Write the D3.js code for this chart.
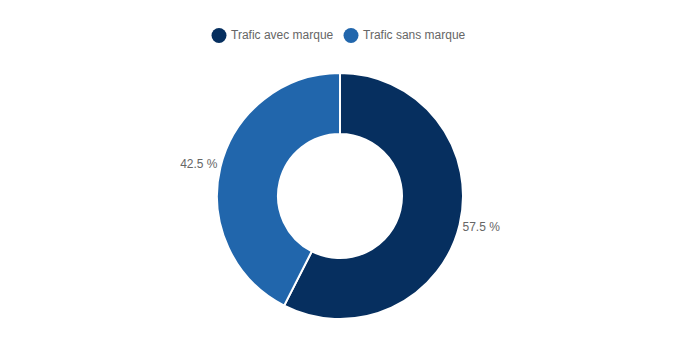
<!DOCTYPE html>
<html><head><meta charset="utf-8">
<script src="https://cdn.jsdelivr.net/npm/d3@7"></script>
<style>body{margin:0;background:#fff;}svg{display:block;font-family:"Liberation Sans",Arial,sans-serif;}</style>
</head><body>
<svg id="c" width="680" height="340"></svg>
<script>
const categories = ["Trafic avec marque", "Trafic sans marque"];
const values = [57.5, 42.5];
const valueLabels = ["57.5 %", "42.5 %"];
const colors = ["#062f5f", "#2166ac"];

const svg = d3.select("#c");
const cx = 340, cy = 196, outerR = 123, innerR = 62, labelR = 126;

const color = d3.scaleOrdinal().domain(categories).range(colors);
const pie = d3.pie().sort(null).value((d, i) => values[i]);
const arcs = pie(categories);
const arc = d3.arc().innerRadius(innerR).outerRadius(outerR);

const g = svg.append("g").attr("transform", `translate(${cx},${cy})`);
g.selectAll("path").data(arcs).join("path")
  .attr("d", arc)
  .attr("fill", d => color(d.data))
  .attr("stroke", "#fff")
  .attr("stroke-width", 2)
  .attr("stroke-linejoin", "round");

g.selectAll("text.lbl").data(arcs).join("text")
  .attr("class", "lbl")
  .each(function(d, i) {
    const a = (d.startAngle + d.endAngle) / 2;
    const x = Math.sin(a) * labelR, y = -Math.cos(a) * labelR;
    d3.select(this).attr("x", x).attr("y", y + (y < 0 ? -3 : 1))
      .attr("text-anchor", x >= 0 ? "start" : "end");
  })
  .attr("dy", "0.35em")
  .attr("font-size", 12)
  .attr("fill", "#666")
  .text((d, i) => valueLabels[i]);

// Legend
const legend = svg.append("g");
const items = [{x: 219, tx: 231}, {x: 351, tx: 363}];
categories.forEach((c, i) => {
  legend.append("circle").attr("cx", items[i].x).attr("cy", 35.5).attr("r", 7.5).attr("fill", color(c));
  legend.append("text").attr("x", items[i].tx).attr("y", 35).attr("dy", "0.35em")
    .attr("font-size", 12).attr("fill", "#666").text(c);
});
</script>
</body></html>
